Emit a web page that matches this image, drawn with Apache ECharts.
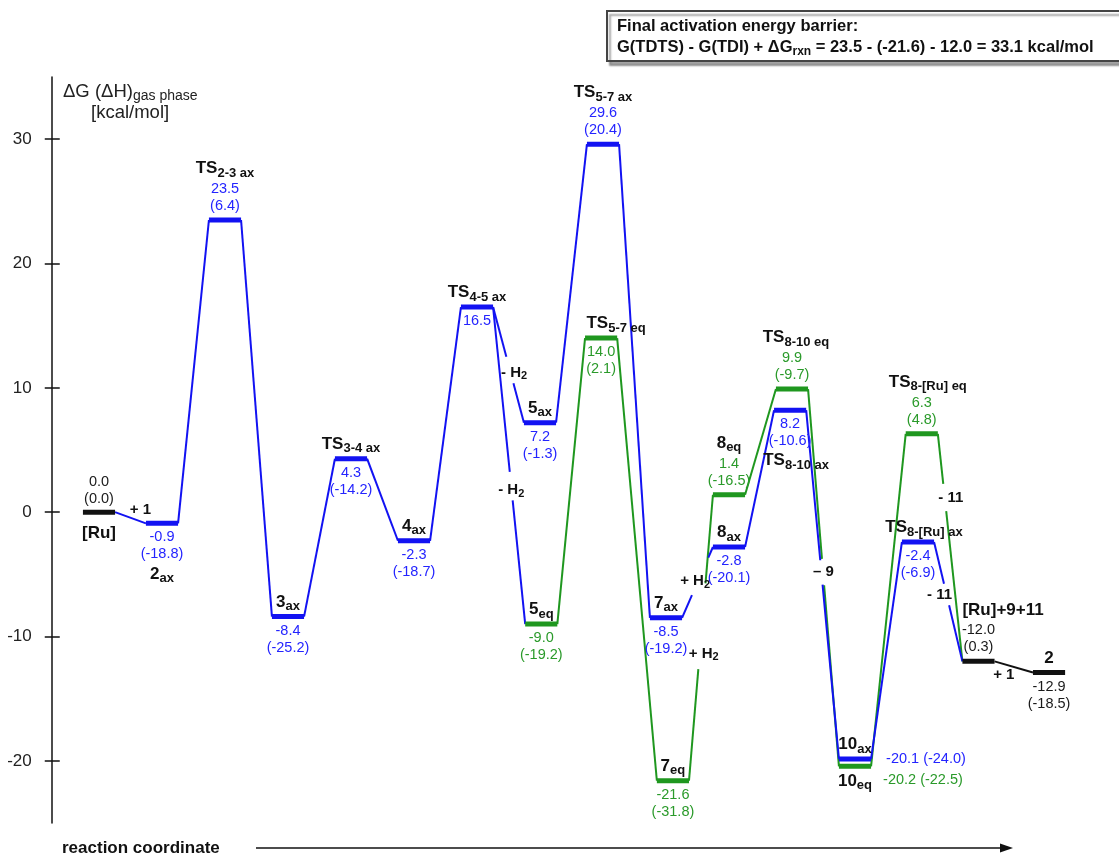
<!DOCTYPE html>
<html>
<head>
<meta charset="utf-8">
<title>Free energy profile</title>
<script src="https://cdn.jsdelivr.net/npm/echarts@6/dist/echarts.min.js"></script>
<style>
  html, body { margin: 0; padding: 0; background: #fff; }
  #chart { width: 1119px; height: 855px; }
</style>
</head>
<body>
<div id="chart"></div>
<script>
// ---- Species along the reaction coordinate ----
// Label: main part and subscript
const levelMain = ['[Ru]', '2', 'TS', '3', 'TS', '4', 'TS', '5', '5', 'TS', 'TS', '7', '7',
  '8', '8', 'TS', 'TS', '10', '10', 'TS', 'TS', '[Ru]+9+11', '2'];
const levelSub = ['', 'ax', '2-3 ax', 'ax', '3-4 ax', 'ax', '4-5 ax', 'ax', 'eq', '5-7 ax', '5-7 eq', 'ax', 'eq',
  'ax', 'eq', '8-10 ax', '8-10 eq', 'ax', 'eq', '8-[Ru] ax', '8-[Ru] eq', '', ''];
// Pathway: ax = axial (blue), eq = equatorial (green), ref = common reference (black)
const levelPath = ['ref', 'ax', 'ax', 'ax', 'ax', 'ax', 'ax', 'ax', 'eq', 'ax', 'eq', 'ax', 'eq',
  'ax', 'eq', 'ax', 'eq', 'ax', 'eq', 'ax', 'eq', 'ref', 'ref'];
// Position along the reaction coordinate
const levelSlot = [0, 1, 2, 3, 4, 5, 6, 7, 7.02, 8, 7.97, 9, 9.11,
  10, 10, 10.97, 11, 12, 12, 13, 13.06, 13.96, 15.08];
// Gibbs free energy, kcal/mol
const levelG = [0.0, -0.9, 23.5, -8.4, 4.3, -2.3, 16.5, 7.2, -9.0, 29.6, 14.0, -8.5, -21.6,
  -2.8, 1.4, 8.2, 9.9, -20.1, -20.2, -2.4, 6.3, -12.0, -12.9];
// Enthalpy, kcal/mol (null where not given)
const levelH = [0.0, -18.8, 6.4, -25.2, -14.2, -18.7, null, -1.3, -19.2, 20.4, 2.1, -19.2, -31.8,
  -20.1, -16.5, -10.6, -9.7, -24.0, -22.5, -6.9, 4.8, 0.3, -18.5];

// Links between consecutive species (indices above) and the species gained or lost
const links = [[0, 1], [1, 2], [2, 3], [3, 4], [4, 5], [5, 6], [6, 7], [6, 8], [7, 9], [8, 10], [9, 11], [10, 12],
  [11, 13], [12, 14], [13, 15], [14, 16], [15, 17], [16, 18], [17, 19], [18, 20], [19, 21], [20, 21], [21, 22]];
const linkNotes = ['+ 1', '', '', '', '', '', '- H2', '- H2', '', '', '', '',
  '+ H2', '+ H2', '', '', '\u2013 9', '', '', '', '- 11', '- 11', '+ 1'];

// Axis ticks
const yTicks = [-20, -10, 0, 10, 20, 30];

// ---- Drawing setup ----
const FONT = '"Liberation Sans", Arial, Helvetica, sans-serif';
const LINE_COLORS = { ax: '#1212f2', eq: '#1f971f', ref: '#111111' };
const TEXT_COLORS = { ax: '#2424ff', eq: '#2a9a2a', ref: '#1a1a1a' };
const HW = 0.255;       // half width of a level, in reaction-coordinate units
const BAR_T = 5;        // level thickness, px
const VAL_LH = 17;      // value text line height

// Text placement around each level
const textLayout = {
  0: { kind: 'upDown' }, 1: { kind: 'downDown' }, 2: { kind: 'stackUp' },
  9: { kind: 'stackUp' }, 10: { kind: 'split', nameDx: 15 }, 14: { kind: 'stackUp' },
  15: { kind: 'downDown', nameDx: 6 }, 16: { kind: 'stackUp', nameDx: 4 },
  17: { kind: 'nameUpValRight' }, 18: { kind: 'nameDownValRight' },
  19: { kind: 'split', nameDx: 6 }, 20: { kind: 'stackUp', nameDx: 6 },
  21: { kind: 'stackUp', nameAlign: 'left' }
};
// Gaps cut into links around their notes: [t0, t1] along the link, note at t with offsets
const linkDecor = {
  0: { t: 0.5, dx: 10, dy: -8 },
  6: { gap: [0.43, 0.66], t: 0.55, dx: 4, dy: 2 },
  7: { gap: [0.52, 0.61], t: 0.565, dx: 0, dy: 4 },
  12: { gap: [0.32, 0.85], t: 0.52, dx: -3, dy: 0 },
  13: { gap: [0.39, 0.69], t: 0.445, dx: 4, dy: 0 },
  16: { gap: [0.43, 0.5], t: 0.464, dx: 2, dy: 0 },
  17: { gap: [0.45, 0.52] },
  20: { gap: [0.35, 0.53], t: 0.44, dx: -7, dy: 0 },
  21: { gap: [0.22, 0.34], t: 0.28, dx: 6, dy: 0 },
  22: { t: 0.5, dx: -10, dy: 8 }
};

// Levels that nearly coincide are drawn side by side vertically
const barShift = levelG.map((g, i) => {
  let s = 0;
  levelG.forEach((h, j) => {
    if (j !== i && Math.abs(levelSlot[j] - levelSlot[i]) < 0.2 && Math.abs(h - g) < 0.6) {
      s = g > h ? -(BAR_T / 2 + 0.5) : (BAR_T / 2 + 0.5);
    }
  });
  return s;
});

function linkColorKey(k) {
  const [a, b] = links[k];
  if (levelPath[a] !== 'ref') return levelPath[a];
  if (levelPath[b] !== 'ref') return levelPath[b];
  return 'ref';
}
// green under blue under black
const orderRank = { eq: 0, ax: 1, ref: 2 };
const linkOrder = links.map((_, k) => k).sort((p, q) => orderRank[linkColorKey(p)] - orderRank[linkColorKey(q)] || p - q);

function levelGeom(i, api) {
  const g = levelG[i];
  const l = api.coord([levelSlot[i] - HW, g]);
  const r = api.coord([levelSlot[i] + HW, g]);
  const y = l[1] + barShift[i];
  return { x1: l[0], x2: r[0], xc: (l[0] + r[0]) / 2, y: y, top: y - BAR_T / 2, bot: y + BAR_T / 2 };
}

const nameRichStyle = {
  m: { fontSize: 17, fontWeight: 'bold', fontFamily: FONT, lineHeight: 22, fill: '#111', color: '#111' },
  s: { fontSize: 13, fontWeight: 'bold', fontFamily: FONT, lineHeight: 13, verticalAlign: 'bottom', fill: '#111', color: '#111' }
};
const noteRichStyle = {
  m: { fontSize: 15, fontWeight: 'bold', fontFamily: FONT, lineHeight: 18, fill: '#111', color: '#111' },
  s: { fontSize: 11, fontWeight: 'bold', fontFamily: FONT, lineHeight: 11, verticalAlign: 'bottom', fill: '#111', color: '#111' }
};

function nameText(i) {
  return '{m|' + levelMain[i] + '}' + (levelSub[i] ? '{s|' + levelSub[i] + '}' : '');
}
function valueText(i, oneLine) {
  const g = levelG[i].toFixed(1);
  if (levelH[i] === null) return g;
  return g + (oneLine ? ' ' : '\n') + '(' + levelH[i].toFixed(1) + ')';
}

function textEl(x, y, text, opts) {
  return {
    type: 'text', x: x, y: y, silent: true,
    style: Object.assign({
      legacy: false, text: text, fontFamily: FONT, align: 'center', verticalAlign: 'bottom'
    }, opts)
  };
}

function renderLevel(params, api) {
  const i = params.dataIndex;
  const geo = levelGeom(i, api);
  const path = levelPath[i];
  const lay = textLayout[i] || { kind: 'split' };
  const ndx = lay.nameDx || 0;
  const nameX = lay.nameAlign === 'left' ? geo.x1 : geo.xc + ndx;
  const nameAlign = lay.nameAlign || 'center';
  const children = [{
    type: 'rect',
    shape: { x: geo.x1, y: geo.top, width: geo.x2 - geo.x1, height: BAR_T },
    style: { fill: LINE_COLORS[path] }
  }];
  const valStyle = { fontSize: 14.5, lineHeight: VAL_LH, fill: TEXT_COLORS[path] };
  const nameStyle = { rich: nameRichStyle, align: nameAlign };
  const vt = valueText(i, false);
  const vH = vt.split('\n').length * VAL_LH;
  switch (lay.kind) {
    case 'stackUp':
      children.push(textEl(geo.xc, geo.top - 3, vt, Object.assign({}, valStyle, { verticalAlign: 'bottom' })));
      children.push(textEl(nameX, geo.top - 3 - vH - 1, nameText(i), Object.assign({}, nameStyle, { verticalAlign: 'bottom' })));
      break;
    case 'upDown':
      children.push(textEl(geo.xc, geo.top - 2, vt, Object.assign({}, valStyle, { verticalAlign: 'bottom' })));
      children.push(textEl(nameX, geo.bot + 8, nameText(i), Object.assign({}, nameStyle, { verticalAlign: 'top' })));
      break;
    case 'downDown':
      children.push(textEl(geo.xc, geo.bot + 3, vt, Object.assign({}, valStyle, { verticalAlign: 'top' })));
      children.push(textEl(nameX, geo.bot + 3 + vH, nameText(i), Object.assign({}, nameStyle, { verticalAlign: 'top' })));
      break;
    case 'nameUpValRight':
      children.push(textEl(nameX, geo.top - 1, nameText(i), Object.assign({}, nameStyle, { verticalAlign: 'bottom' })));
      children.push(textEl(geo.x2 + 15, geo.y, valueText(i, true), Object.assign({}, valStyle, { align: 'left', verticalAlign: 'middle' })));
      break;
    case 'nameDownValRight':
      children.push(textEl(nameX, geo.bot + 1, nameText(i), Object.assign({}, nameStyle, { verticalAlign: 'top' })));
      children.push(textEl(geo.x2 + 12, geo.y + 14, valueText(i, true), Object.assign({}, valStyle, { align: 'left', verticalAlign: 'middle' })));
      break;
    default: // name above, values below
      children.push(textEl(nameX, geo.top - 1, nameText(i), Object.assign({}, nameStyle, { verticalAlign: 'bottom' })));
      children.push(textEl(geo.xc, geo.bot + 3, vt, Object.assign({}, valStyle, { verticalAlign: 'top' })));
  }
  return { type: 'group', children: children };
}

function renderLink(params, api) {
  const k = linkOrder[params.dataIndex];
  const [a, b] = links[k];
  const ga = levelGeom(a, api), gb = levelGeom(b, api);
  const p1 = [ga.x2, ga.y], p2 = [gb.x1, gb.y];
  const at = t => [p1[0] + (p2[0] - p1[0]) * t, p1[1] + (p2[1] - p1[1]) * t];
  const deco = linkDecor[k] || {};
  const color = LINE_COLORS[linkColorKey(k)];
  const lineStyle = { stroke: color, lineWidth: 2, lineCap: 'butt' };
  const children = [];
  const pieces = deco.gap ? [[0, deco.gap[0]], [deco.gap[1], 1]] : [[0, 1]];
  pieces.forEach(([t0, t1]) => {
    const q0 = at(t0), q1 = at(t1);
    children.push({ type: 'line', shape: { x1: q0[0], y1: q0[1], x2: q1[0], y2: q1[1] }, style: lineStyle });
  });
  const note = linkNotes[k];
  if (note) {
    const c = at(deco.t != null ? deco.t : 0.5);
    const rich = note.replace(/H2/, 'H}{s|2}{m|');
    children.push(textEl(c[0] + (deco.dx || 0), c[1] + (deco.dy || 0), '{m|' + rich + '}',
      { rich: noteRichStyle, verticalAlign: 'middle' }));
  }
  return { type: 'group', children: children };
}

const chart = echarts.init(document.getElementById('chart'), null, { renderer: 'canvas' });

const axisCommon = {
  type: 'value', min: -25, max: 35, position: 'left',
  splitLine: { show: false }
};

chart.setOption({
  animation: false,
  backgroundColor: '#ffffff',
  grid: { left: 51.75, right: 12, top: 77, height: 746, containLabel: false },
  xAxis: { type: 'value', min: -0.75, max: 16, show: false },
  yAxis: [
    Object.assign({}, axisCommon, {
      axisLine: { show: true, onZero: false, lineStyle: { color: '#111', width: 1.5 } },
      axisTick: { show: true, customValues: yTicks, length: 7, lineStyle: { color: '#111', width: 1.5 } },
      axisLabel: { show: true, customValues: yTicks, margin: 20, fontSize: 17, color: '#222', fontFamily: FONT }
    }),
    Object.assign({}, axisCommon, {
      axisLine: { show: false, onZero: false },
      axisTick: { show: true, inside: true, customValues: yTicks, length: 8, lineStyle: { color: '#111', width: 1.5 } },
      axisLabel: { show: false }
    })
  ],
  series: [
    {
      type: 'custom', name: 'links', coordinateSystem: 'cartesian2d', z: 2,
      data: linkOrder.map(k => [levelSlot[links[k][0]], levelG[links[k][0]], levelSlot[links[k][1]], levelG[links[k][1]]]),
      encode: { x: [0, 2], y: [1, 3] },
      renderItem: renderLink,
      silent: true
    },
    {
      type: 'custom', name: 'levels', coordinateSystem: 'cartesian2d', z: 3,
      data: levelSlot.map((s, i) => [s, levelG[i]]),
      encode: { x: 0, y: 1 },
      renderItem: renderLevel,
      silent: true
    }
  ],
  graphic: [
    // y axis title
    {
      type: 'text', x: 63, y: 92, silent: true,
      style: {
        legacy: false, verticalAlign: 'middle',
        text: '{m|\u0394G (\u0394H)}{s|gas phase}',
        rich: {
          m: { fontSize: 18.5, fontFamily: FONT, lineHeight: 23, fill: '#222', color: '#222' },
          s: { fontSize: 14, fontFamily: FONT, lineHeight: 14, verticalAlign: 'bottom', fill: '#222', color: '#222' }
        }
      }
    },
    {
      type: 'text', x: 91, y: 113, silent: true,
      style: { legacy: false, text: '[kcal/mol]', fontSize: 18.5, fontFamily: FONT, fill: '#222', verticalAlign: 'middle' }
    },
    // barrier summary box
    {
      type: 'rect', silent: true,
      shape: { x: 607, y: 11, width: 540, height: 50 },
      style: { fill: '#fff', stroke: '#444', lineWidth: 2, shadowColor: 'rgba(0,0,0,0.35)', shadowBlur: 2, shadowOffsetX: 3, shadowOffsetY: 4 }
    },
    {
      type: 'text', x: 617, y: 26, silent: true,
      style: { legacy: false, text: 'Final activation energy barrier:', fontSize: 16.5, fontWeight: 'bold', fontFamily: FONT, fill: '#111', verticalAlign: 'middle' }
    },
    {
      type: 'text', x: 617, y: 47, silent: true,
      style: {
        legacy: false, verticalAlign: 'middle',
        text: '{b|G(TDTS) - G(TDI) + \u0394G}{s|rxn}{b| = 23.5 - (-21.6) - 12.0 = 33.1 kcal/mol}',
        rich: {
          b: { fontSize: 16.5, fontWeight: 'bold', fontFamily: FONT, lineHeight: 21, fill: '#111', color: '#111' },
          s: { fontSize: 12, fontWeight: 'bold', fontFamily: FONT, lineHeight: 12, verticalAlign: 'bottom', fill: '#111', color: '#111' }
        }
      }
    },
    // reaction coordinate arrow
    {
      type: 'text', x: 62, y: 848, silent: true,
      style: { legacy: false, text: 'reaction coordinate', fontSize: 17, fontWeight: 'bold', fontFamily: FONT, fill: '#111', verticalAlign: 'middle' }
    },
    {
      type: 'line', silent: true,
      shape: { x1: 256, y1: 848, x2: 1002, y2: 848 },
      style: { stroke: '#111', lineWidth: 1.3 }
    },
    {
      type: 'polygon', silent: true,
      shape: { points: [[1013, 848], [1000, 843.5], [1000, 852.5]] },
      style: { fill: '#111' }
    }
  ]
});
</script>
</body>
</html>
